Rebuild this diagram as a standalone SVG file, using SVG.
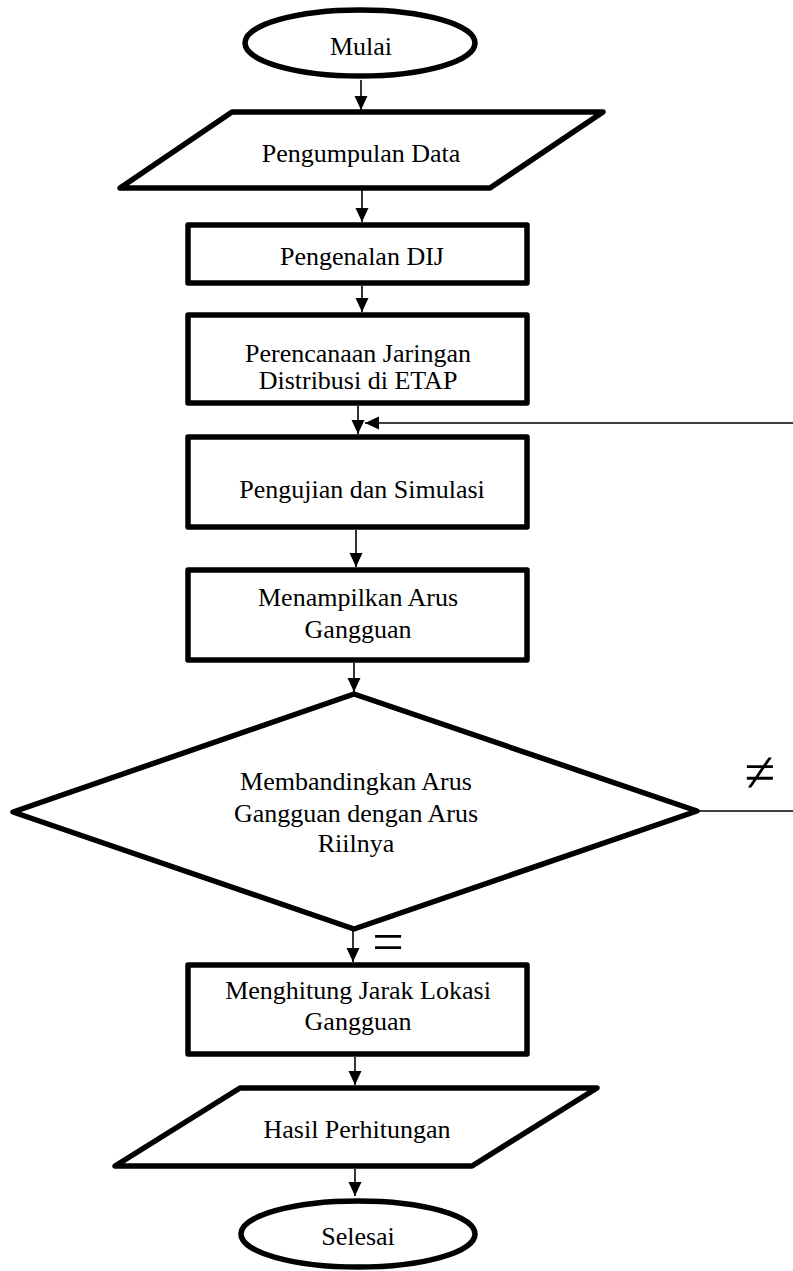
<svg xmlns="http://www.w3.org/2000/svg" width="793" height="1271" viewBox="0 0 793 1271">
<style>
.s{fill:#fff;stroke:#000;stroke-width:5.5;stroke-linejoin:round}
.t{font-family:"Liberation Serif","Times New Roman",serif;font-size:26px;fill:#000;text-anchor:middle}
.c{stroke:#000;stroke-width:1.6;fill:none}
.m{font-family:"Liberation Serif","Times New Roman",serif;font-size:56px;fill:#000;text-anchor:middle}
</style>
<defs>
<marker id="ah" markerUnits="userSpaceOnUse" markerWidth="16" markerHeight="14" refX="14" refY="6.5" orient="auto">
<path d="M0,0 L14,6.5 L0,13 z" fill="#000"/>
</marker>
</defs>
<rect width="793" height="1271" fill="#fff"/>
<g id="connectors">
<line class="c" x1="361" y1="80" x2="361" y2="110" marker-end="url(#ah)"/>
<line class="c" x1="362" y1="189" x2="362" y2="222" marker-end="url(#ah)"/>
<line class="c" x1="362" y1="286" x2="362" y2="312" marker-end="url(#ah)"/>
<line class="c" x1="358" y1="406" x2="358" y2="434" marker-end="url(#ah)"/>
<line class="c" x1="356" y1="530" x2="356" y2="567" marker-end="url(#ah)"/>
<line class="c" x1="354" y1="663" x2="354" y2="692" marker-end="url(#ah)"/>
<line class="c" x1="353" y1="931" x2="353" y2="962" marker-end="url(#ah)"/>
<line class="c" x1="355" y1="1057" x2="355" y2="1085" marker-end="url(#ah)"/>
<line class="c" x1="355" y1="1169" x2="355" y2="1196" marker-end="url(#ah)"/>
<line class="c" x1="793" y1="423" x2="365" y2="423" marker-end="url(#ah)"/>
<line class="c" x1="697" y1="811" x2="793" y2="811"/>
<text class="m" x="760" y="791">≠</text>
<text class="m" x="388" y="961">=</text>
</g>
<g id="mulai">
<ellipse class="s" cx="360" cy="43" rx="115" ry="33"/>
<text class="t" x="361" y="55">Mulai</text>
</g>
<g id="pengumpulan">
<polygon class="s" points="232,112 603,112 490,188 120,188"/>
<text class="t" x="361" y="162">Pengumpulan Data</text>
</g>
<g id="pengenalan">
<rect class="s" x="188" y="225" width="339" height="58"/>
<text class="t" x="362" y="265">Pengenalan DIJ</text>
</g>
<g id="perencanaan">
<rect class="s" x="188" y="315" width="339" height="88"/>
<text class="t" x="358" y="362">Perencanaan Jaringan</text>
<text class="t" x="358" y="389">Distribusi di ETAP</text>
</g>
<g id="pengujian">
<rect class="s" x="188" y="437" width="339" height="90"/>
<text class="t" x="362" y="498">Pengujian dan Simulasi</text>
</g>
<g id="menampilkan">
<rect class="s" x="188" y="570" width="339" height="90"/>
<text class="t" x="358" y="606">Menampilkan Arus</text>
<text class="t" x="358" y="638">Gangguan</text>
</g>
<g id="membandingkan">
<polygon class="s" points="354,694 697,811 354,929 13,812"/>
<text class="t" x="356" y="790">Membandingkan Arus</text>
<text class="t" x="356" y="822">Gangguan dengan Arus</text>
<text class="t" x="356" y="852">Riilnya</text>
</g>
<g id="menghitung">
<rect class="s" x="188" y="965" width="339" height="89"/>
<text class="t" x="358" y="999">Menghitung Jarak Lokasi</text>
<text class="t" x="358" y="1030">Gangguan</text>
</g>
<g id="hasil">
<polygon class="s" points="240,1088 597,1088 472,1166 115,1166"/>
<text class="t" x="357" y="1138">Hasil Perhitungan</text>
</g>
<g id="selesai">
<ellipse class="s" cx="358" cy="1234" rx="117" ry="33"/>
<text class="t" x="358" y="1245">Selesai</text>
</g>
</svg>
